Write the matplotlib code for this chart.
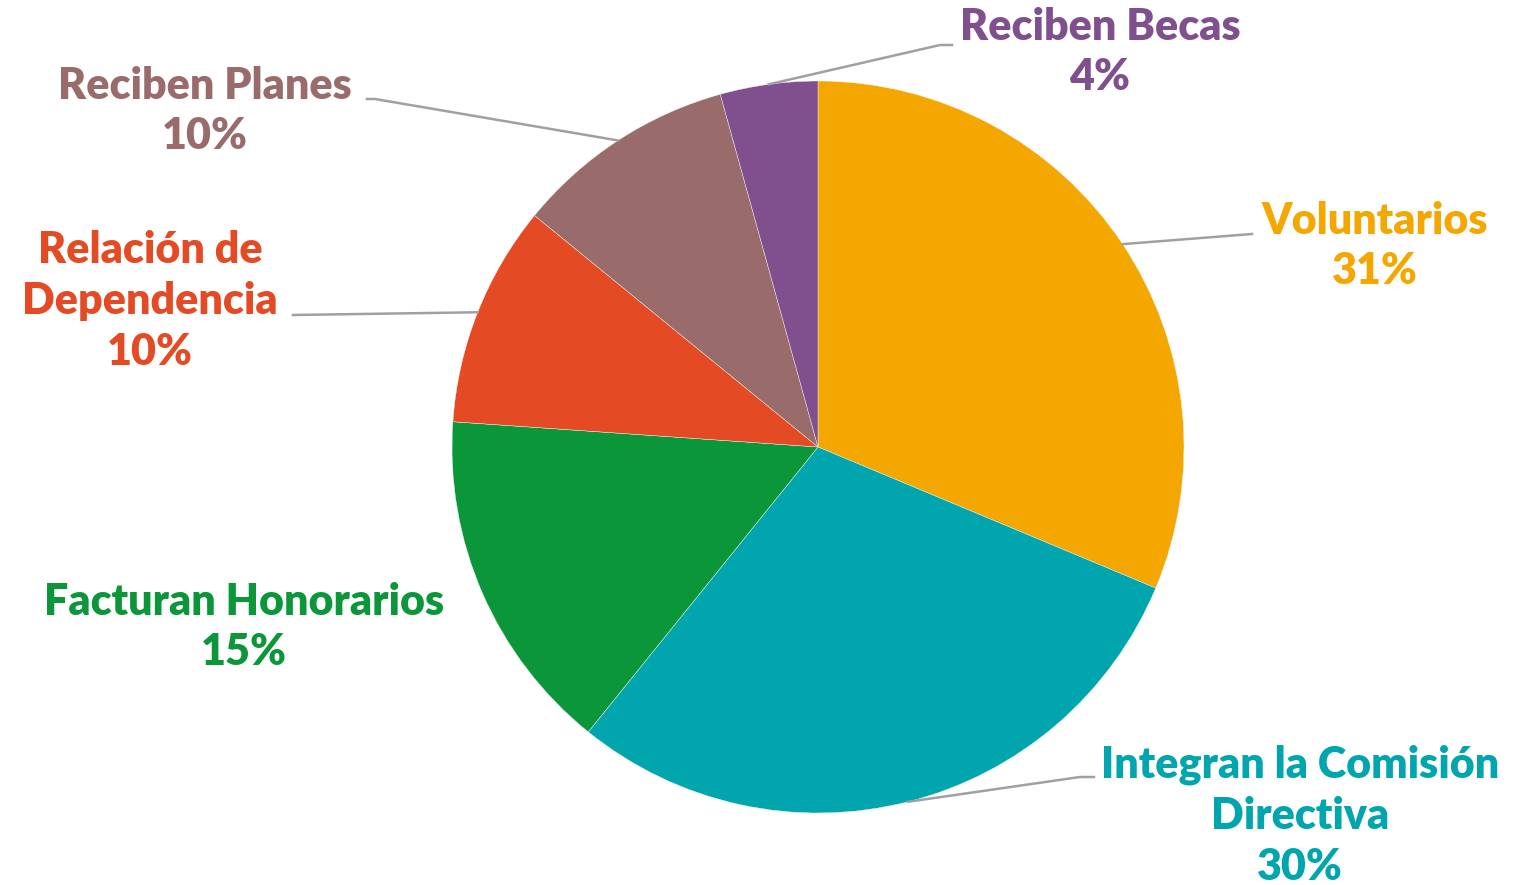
import numpy as np
import matplotlib
matplotlib.use("Agg")
import matplotlib.pyplot as plt

plt.rcParams['font.family'] = ['Lato', 'DejaVu Sans']

## Datos (porcentajes)
categorias = ['Voluntarios', 'Integran la Comisión\nDirectiva', 'Facturan Honorarios',
              'Relación de\nDependencia', 'Reciben Planes', 'Reciben Becas']
valores = [31.3, 29.5, 15.3, 9.8, 9.8, 4.3]
etiquetas_pct = ['31%', '30%', '15%', '10%', '10%', '4%']
colores = ['#F4A700', '#00A5AD', '#0A9639', '#E44A23', '#9A6B6B', '#7F4F8E']

W, H = 1522, 885
CX, CY, R = 818, 447, 366

def px(x, y):
    # pixel de la imagen -> coordenadas de datos (radio del pie = 1)
    return (x - CX) / R, (CY - y) / R

## posiciones de etiquetas (centro del texto) y codo de la línea guía
pos_texto = [(1375, 246), (1300, 816), (244, 627), (150, 301), (205, 111), (1100, 52)]
codos = [[(1252, 234)], [(1080, 777), (1094, 777)], None,
         [(293, 315)], [(375, 99), (367, 99)], [(940, 45), (952, 45)]]

fig = plt.figure(figsize=(W / 100, H / 100), dpi=100)
ax = fig.add_axes([0, 0, 1, 1])

wedges, _ = ax.pie(valores, colors=colores, startangle=90, counterclock=False,
                   radius=1, center=(0, 0), frame=True,
                   wedgeprops=dict(linewidth=0.3, edgecolor='#f5f5f5'))
ax.set_xlim(-CX / R, (W - CX) / R)
ax.set_ylim(-(H - CY) / R, CY / R)
ax.set_aspect('equal')
ax.axis('off')

for w, cat, pct, col, pt, codo in zip(wedges, categorias, etiquetas_pct, colores, pos_texto, codos):
    ang = np.deg2rad((w.theta1 + w.theta2) / 2)
    ax0, ay0 = np.cos(ang), np.sin(ang)
    if codo is not None:
        xs = [ax0] + [px(*c)[0] for c in codo]
        ys = [ay0] + [px(*c)[1] for c in codo]
        ax.plot(xs, ys, color='#A0A0A0', lw=1.8, zorder=3)
    tx, ty = px(*pt)
    ax.text(tx, ty, cat + '\n' + pct, color=col, fontsize=31, fontweight='heavy',
            ha='center', va='center', linespacing=1.33, zorder=4)

fig.savefig('out.png', dpi=100)
